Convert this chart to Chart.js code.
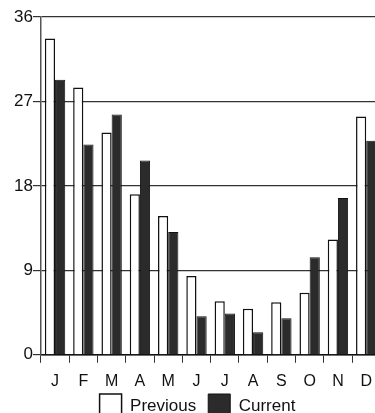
<!DOCTYPE html>
<html>
<head>
<meta charset="utf-8">
<script src="https://cdn.jsdelivr.net/npm/chart.js@4"></script>
<style>
  html, body { margin: 0; padding: 0; background: #fff; overflow: hidden; }
  #wrap { width: 381px; height: 446px; }
</style>
</head>
<body>
<div id="wrap"><canvas id="myChart"></canvas></div>
<script>
// month initials on the x axis
var months = ['J', 'F', 'M', 'A', 'M', 'J', 'J', 'A', 'S', 'O', 'N', 'D'];
var previousValues = [33.7, 28.5, 23.7, 17.1, 14.8, 8.4, 5.7, 4.9, 5.6, 6.6, 12.3, 25.4];
var currentValues = [29.3, 22.4, 25.6, 20.7, 13.1, 4.1, 4.4, 2.4, 3.9, 10.4, 16.7, 22.8];
var yTicks = [0, 9, 18, 27, 36];

Chart.defaults.font.family = '"Liberation Sans", Arial, sans-serif';
Chart.defaults.color = '#111';

// legend sits tight under the month letters in the original
var legendLift = {
  id: 'legendLift',
  afterLayout: function (chart) {
    chart.legend.top -= 18;
    chart.legend.bottom -= 18;
  }
};

var ctx = document.getElementById('myChart').getContext('2d');
var myChart = new Chart(ctx, {
  type: 'bar',
  data: {
    labels: months,
    datasets: [{
      label: 'Previous',
      data: previousValues,
      backgroundColor: '#ffffff',
      borderColor: '#111',
      borderWidth: 1.5,
      borderSkipped: 'bottom'
    }, {
      label: 'Current',
      data: currentValues,
      backgroundColor: '#2b2b2b',
      borderColor: '#111',
      borderWidth: 1,
      borderSkipped: 'bottom'
    }]
  },
  plugins: [legendLift],
  options: {
    responsive: true,
    maintainAspectRatio: false,
    animation: false,
    layout: { padding: { top: 17, right: 0, left: 14, bottom: 0 } },
    datasets: {
      bar: { categoryPercentage: 0.72, barPercentage: 1.0 }
    },
    scales: {
      x: {
        grid: {
          display: true,
          offset: true,
          drawOnChartArea: false,
          tickLength: 8,
          color: '#333'
        },
        border: { display: true, color: '#111', width: 1.5 },
        ticks: { font: { size: 16 }, color: '#111', padding: 9 }
      },
      y: {
        min: 0,
        max: 36,
        afterBuildTicks: function (axis) {
          axis.ticks = yTicks.map(function (v) { return { value: v }; });
        },
        grid: { color: '#333', lineWidth: 1.2, tickLength: 8 },
        border: { display: true, color: '#555', width: 1.5 },
        ticks: { font: { size: 17 }, color: '#111', padding: 0 }
      }
    },
    plugins: {
      legend: {
        position: 'bottom',
        labels: {
          boxWidth: 22,
          boxHeight: 24,
          padding: 12,
          font: { size: 17 },
          color: '#111'
        }
      },
      tooltip: { enabled: false }
    }
  }
});
</script>
</body>
</html>
